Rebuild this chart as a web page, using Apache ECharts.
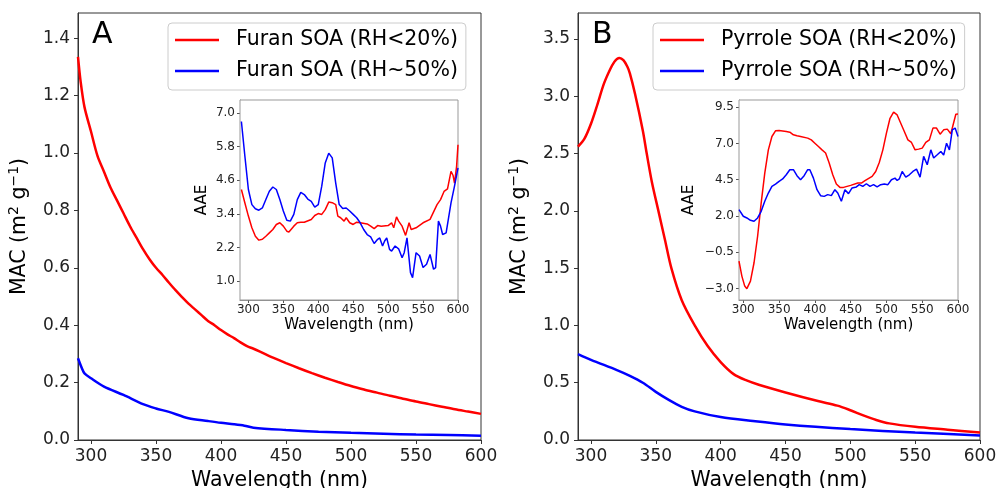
<!DOCTYPE html>
<html><head><meta charset="utf-8">
<script src="https://cdn.jsdelivr.net/npm/echarts@6/dist/echarts.min.js"></script>
<style>html,body{margin:0;padding:0;background:#fff}#c{width:997px;height:488px}</style>
</head><body><div id="c"></div>
<script>
// ---------- DATA ----------
const xTicks = [300, 350, 400, 450, 500, 550, 600];
const macTicksA = [0.0, 0.2, 0.4, 0.6, 0.8, 1.0, 1.2, 1.4];
const macTicksB = [0.0, 0.5, 1.0, 1.5, 2.0, 2.5, 3.0, 3.5];
const aaeTicksA = [1.0, 2.2, 3.4, 4.6, 5.8, 7.0];
const aaeTicksB = [-3.0, -0.5, 2.0, 4.5, 7.0, 9.5];

const legendA = ['Furan SOA (RH<20%)', 'Furan SOA (RH~50%)'];
const legendB = ['Pyrrole SOA (RH<20%)', 'Pyrrole SOA (RH~50%)'];

// Panel A main: Furan MAC
const furanDryWl = [290,292,295,300,305,310,315,320,325,330,335,340,345,350,355,360,365,370,375,380,385,390,395,400,405,410,415,420,425,430,440,450,460,470,480,490,500,510,520,530,540,550,560,570,580,590,600];
const furanDryMac = [1.335,1.25,1.16,1.075,0.99,0.935,0.88,0.835,0.79,0.745,0.705,0.665,0.63,0.60,0.575,0.548,0.522,0.498,0.475,0.455,0.435,0.415,0.40,0.383,0.368,0.355,0.34,0.327,0.318,0.308,0.287,0.268,0.25,0.233,0.217,0.202,0.188,0.176,0.165,0.154,0.144,0.134,0.125,0.116,0.107,0.099,0.091];
const furanWetWl = [290,293,295,300,310,325,340,350,360,375,390,400,410,418,425,450,475,500,525,550,575,600];
const furanWetMac = [0.285,0.25,0.232,0.215,0.186,0.157,0.125,0.11,0.098,0.0755,0.066,0.06,0.055,0.05,0.043,0.035,0.029,0.025,0.022,0.019,0.017,0.015];

// Panel B main: Pyrrole MAC
const pyrDryWl = [290,295,300,305,310,315,318,320,322,325,328,330,334,340,343,347,352,357,362,370,380,390,400,410,420,430,450,475,490,500,510,520,530,550,575,600];
const pyrDryMac = [2.56,2.63,2.76,2.93,3.11,3.24,3.30,3.325,3.335,3.315,3.26,3.2,3.02,2.7,2.5,2.25,2.0,1.75,1.5,1.22,1.0,0.82,0.68,0.575,0.52,0.48,0.415,0.34,0.3,0.26,0.215,0.175,0.145,0.115,0.09,0.065];
const pyrWetWl = [290,300,320,330,340,350,360,370,380,400,425,450,500,550,600];
const pyrWetMac = [0.75,0.7,0.61,0.56,0.5,0.42,0.35,0.29,0.25,0.2,0.165,0.135,0.095,0.065,0.04];

// Inset A: Furan AAE
const furanDryAaeWl = [290,295,300,305,310,315,320,325,330,335,340,345,350,355,358,365,370,375,380,390,395,400,405,410,415,420,425,428,432,437,440,445,450,455,460,470,475,480,485,490,500,505,508,512,515,520,525,530,533,540,550,560,570,575,580,585,590,593,595,598,600];
const furanDryAae = [4.27,3.79,3.32,2.9,2.6,2.46,2.49,2.6,2.72,2.84,3.02,3.08,2.96,2.78,2.75,2.96,3.08,3.1,3.1,3.2,3.34,3.41,3.38,3.55,3.82,3.8,3.73,3.32,3.26,3.14,3.26,3.08,3.02,3.1,3.08,3.04,2.96,2.87,2.98,2.96,2.98,3.08,2.9,3.29,3.14,2.96,2.63,3.08,2.84,2.9,3.08,3.2,3.73,3.91,4.2,4.29,4.92,4.77,4.5,5.1,5.87];
const furanWetAaeWl = [290,295,300,305,310,315,320,325,330,335,340,345,350,355,360,365,370,375,380,385,390,395,400,405,410,415,420,425,430,435,440,445,450,455,460,465,470,475,480,485,488,492,495,498,502,505,510,515,520,523,527,532,535,540,545,550,555,560,565,568,572,575,578,583,590,595,600];
const furanWetAae = [6.7,5.46,4.27,3.73,3.58,3.53,3.61,3.91,4.21,4.36,4.27,3.91,3.5,3.17,3.14,3.38,3.91,4.17,4.09,3.93,3.85,3.64,3.73,4.39,5.22,5.57,5.4,4.5,3.73,3.59,3.61,3.5,3.38,3.26,3.08,2.84,2.66,2.58,2.34,2.49,2.54,2.25,2.43,2.54,2.13,2.07,2.25,2.15,1.83,2.01,2.54,1.3,1.12,2.01,1.89,1.48,1.6,1.95,1.42,1.48,3.14,2.96,2.66,2.72,3.79,4.39,5.04];

// Inset B: Pyrrole AAE
const pyrDryAaeWl = [294,298,302,305,310,315,320,325,330,335,340,345,350,360,365,370,375,380,390,395,400,405,410,415,420,425,430,435,440,445,450,460,465,470,480,485,490,495,500,505,510,515,520,525,530,535,540,545,550,555,560,565,570,575,580,585,590,594,597,600];
const pyrDryAae = [-1.12,-2.15,-2.84,-3.02,-2.5,-1.23,0.6,2.9,4.96,6.56,7.48,7.87,7.89,7.83,7.78,7.6,7.53,7.48,7.37,7.25,7.02,6.79,6.56,6.34,5.65,4.84,4.2,3.97,3.97,4.04,4.11,4.27,4.27,4.43,4.73,5.07,5.69,6.56,7.71,8.74,9.16,8.97,8.4,7.83,7.25,7.07,6.56,6.61,6.68,7.07,7.25,8.06,8.06,7.64,7.94,7.99,7.67,8.45,9.02,9.04];
const pyrWetAaeWl = [294,300,305,310,315,320,325,330,335,340,345,350,355,360,365,370,375,380,385,390,393,398,403,408,413,418,423,428,432,437,442,447,452,458,462,467,472,477,482,487,492,497,502,507,512,515,518,522,527,532,537,542,547,552,557,562,566,571,576,580,584,588,592,596,600];
const pyrWetAae = [2.44,1.98,1.86,1.7,1.63,1.86,2.32,3.01,3.58,4.04,4.2,4.39,4.55,4.84,5.19,5.19,4.78,4.5,4.78,5.19,5.19,4.61,3.81,3.4,3.35,3.47,3.4,3.81,3.58,3.01,3.81,3.54,3.93,4.0,4.16,4.04,4.22,4.04,4.16,4.0,4.16,4.2,4.16,4.5,4.61,4.45,4.55,5.07,4.68,4.84,5.07,5.23,4.68,6.11,5.53,6.56,6.0,6.22,6.45,6.2,7.02,6.56,7.94,8.06,7.48];

// ---------- CHART ----------
const FONT = 'DejaVu Sans';
const RED = '#ff0000', BLUE = '#0000ff';
const zip = (a, b) => a.map((v, i) => [v, b[i]]);
const fmt1 = v => v.toFixed(1).replace('-', '\u2212');

function xAxis(gi, min, inset) {
  return {
    type: 'value', gridIndex: gi, min: min, max: 600,
    name: 'Wavelength (nm)', nameLocation: 'middle',
    nameGap: inset ? 18 : 28,
    nameTextStyle: { fontFamily: FONT, fontSize: inset ? 15 : 20.5, color: '#000' },
    axisLine: { show: true, onZero: false, lineStyle: { color: inset ? '#888' : '#333', width: 1 } },
    axisTick: { show: true, length: inset ? 3 : 4, customValues: xTicks, lineStyle: { color: inset ? '#555' : '#333' } },
    axisLabel: { customValues: xTicks, fontFamily: FONT, fontSize: inset ? 12 : 17, color: '#222', margin: inset ? 4 : 8, formatter: v => String(Math.round(v)) },
    splitLine: { show: false }
  };
}
function yAxis(gi, min, max, ticks, inset) {
  const o = {
    type: 'value', gridIndex: gi, min: min, max: max,
    nameLocation: 'middle',
    axisLine: { show: true, onZero: false, lineStyle: { color: inset ? '#888' : '#333', width: 1 } },
    axisTick: { show: true, length: inset ? 3 : 4, customValues: ticks, lineStyle: { color: inset ? '#555' : '#333' } },
    axisLabel: { customValues: ticks, fontFamily: FONT, fontSize: inset ? 12 : 17, color: '#222', margin: inset ? 5 : 8, formatter: fmt1 },
    splitLine: { show: false }
  };
  if (inset) {
    o.name = 'AAE';
    o.nameTextStyle = { fontFamily: FONT, fontSize: 15, color: '#000' };
  } else {
    o.name = 'MAC (m{s|2} g{s|\u22121})';
    o.nameGap = 45;
    o.nameTextStyle = { fontFamily: FONT, fontSize: 20.5, color: '#000', lineHeight: 26,
      rich: { s: { fontFamily: FONT, fontSize: 14, color: '#000', verticalAlign: 'top', lineHeight: 14 } } };
  }
  return o;
}
function legend(left, names) {
  return {
    left: left, top: 23, orient: 'vertical', data: names,
    icon: 'rect', itemWidth: 44, itemHeight: 2.5, itemGap: 7,
    padding: [5, 8, 7, 7],
    backgroundColor: '#fff', borderColor: '#ccc', borderWidth: 1, borderRadius: 4,
    textStyle: { fontFamily: FONT, fontSize: 20.5, color: '#000', padding: [0, 0, 0, 12], lineHeight: 24 },
    selectedMode: false
  };
}
function line(name, xi, yi, data, color, w, z, smooth) {
  return { name: name, type: 'line', xAxisIndex: xi, yAxisIndex: yi, data: data,
    showSymbol: false, symbol: 'none', smooth: smooth, z: z,
    lineStyle: { color: color, width: w }, itemStyle: { color: color }, silent: true };
}

const insetY_A = yAxis(2, 0.32, 7.47, aaeTicksA, true); insetY_A.nameGap = 30;
const insetY_B = yAxis(3, -3.8, 10.0, aaeTicksB, true); insetY_B.nameGap = 42;

const gridBase = { show: true, borderWidth: 1, outerBoundsMode: 'none', containLabel: false };
const option = {
  animation: false,
  backgroundColor: '#fff',
  grid: [
    Object.assign({}, gridBase, { left: 78, top: 13, width: 403, height: 427, borderColor: '#333', backgroundColor: 'transparent' }),
    Object.assign({}, gridBase, { left: 578, top: 13, width: 402, height: 427, borderColor: '#333', backgroundColor: 'transparent' }),
    Object.assign({}, gridBase, { left: 240, top: 100, width: 218, height: 200, borderColor: '#999', backgroundColor: '#fff', z: 5 }),
    Object.assign({}, gridBase, { left: 739, top: 100, width: 219, height: 200, borderColor: '#999', backgroundColor: '#fff', z: 5 })
  ],
  xAxis: [ xAxis(0, 290, false), xAxis(1, 290, false), xAxis(2, 288, true), xAxis(3, 294, true) ],
  yAxis: [ yAxis(0, 0, 1.488, macTicksA, false), yAxis(1, 0, 3.727, macTicksB, false), insetY_A, insetY_B ],
  legend: [ legend(168, legendA), legend(653, legendB) ],
  graphic: [
    { type: 'text', left: 92, top: 20, style: { text: 'A', fontFamily: FONT, fontSize: 30, fill: '#000' }, z: 20 },
    { type: 'text', left: 592, top: 20, style: { text: 'B', fontFamily: FONT, fontSize: 30, fill: '#000' }, z: 20 }
  ],
  series: [
    line(legendA[0], 0, 0, zip(furanDryWl, furanDryMac), RED, 2.5, 2, 0.3),
    line(legendA[1], 0, 0, zip(furanWetWl, furanWetMac), BLUE, 2.5, 2, 0.3),
    line(legendB[0], 1, 1, zip(pyrDryWl, pyrDryMac), RED, 2.5, 2, 0.3),
    line(legendB[1], 1, 1, zip(pyrWetWl, pyrWetMac), BLUE, 2.5, 2, 0.3),
    line('Furan AAE dry', 2, 2, zip(furanDryAaeWl, furanDryAae), RED, 1.5, 10, false),
    line('Furan AAE wet', 2, 2, zip(furanWetAaeWl, furanWetAae), BLUE, 1.5, 10, false),
    line('Pyrrole AAE dry', 3, 3, zip(pyrDryAaeWl, pyrDryAae), RED, 1.5, 10, false),
    line('Pyrrole AAE wet', 3, 3, zip(pyrWetAaeWl, pyrWetAae), BLUE, 1.5, 10, false)
  ]
};
const chart = echarts.init(document.getElementById('c'), null, { renderer: 'canvas' });
chart.setOption(option);
</script></body></html>
